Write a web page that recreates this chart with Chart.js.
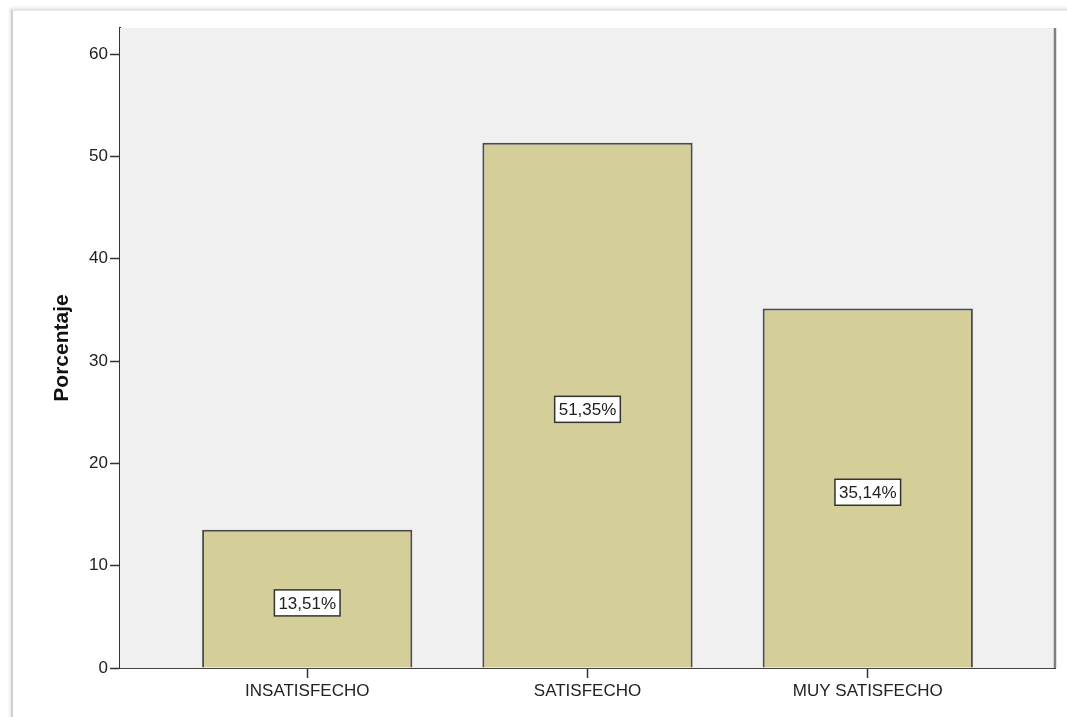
<!DOCTYPE html>
<html lang="es">
<head>
<meta charset="utf-8">
<title>Porcentaje por nivel de satisfacción</title>
<script src="https://cdn.jsdelivr.net/npm/chart.js@4/dist/chart.umd.min.js"></script>
<style>
    html, body { margin: 0; padding: 0; background: #fff; }
    body { width: 1067px; height: 717px; position: relative; overflow: hidden; }
    .frame {
        position: absolute; left: 11px; top: 9px; right: -4px; bottom: -4px;
        border-top: 2px solid #e6e6e6;
        border-left: 2px solid #d0d0d0;
        box-shadow: -1px -1px 3px rgba(0,0,0,0.12);
        background: #fff;
    }
    #chart { position: absolute; left: 0; top: 0; }
</style>
</head>
<body>
<div class="frame"></div>
<canvas id="chart" width="1067" height="717"></canvas>
<script>
const categories = ['INSATISFECHO', 'SATISFECHO', 'MUY SATISFECHO'];
const percentages = [13.51, 51.35, 35.14];
const yTicks = [0, 10, 20, 30, 40, 50, 60];

const FONT = '"Liberation Sans", Arial, sans-serif';

// ─── Plot background, right frame and value boxes ──────────────

const plotFrame = {
    id: 'plotFrame',
    beforeDatasetsDraw(chart) {
        const { ctx, chartArea: a } = chart;
        ctx.save();
        ctx.fillStyle = '#f0f0f0';
        ctx.fillRect(a.left, a.top, a.right - a.left, a.bottom - a.top);
        ctx.restore();
    },
    afterDraw(chart) {
        const { ctx, chartArea: a } = chart;
        ctx.save();
        ctx.strokeStyle = '#808080';
        ctx.lineWidth = 2.5;
        ctx.beginPath();
        ctx.moveTo(a.right, a.top);
        ctx.lineTo(a.right, a.bottom);
        ctx.stroke();
        ctx.restore();
    }
};

const valueBoxes = {
    id: 'valueBoxes',
    afterDatasetsDraw(chart) {
        const { ctx } = chart;
        const y = chart.scales.y;
        const meta = chart.getDatasetMeta(0);
        ctx.save();
        ctx.font = '17px ' + FONT;
        ctx.textAlign = 'center';
        ctx.textBaseline = 'middle';
        meta.data.forEach((bar, i) => {
            const text = percentages[i].toFixed(2).replace('.', ',') + '%';
            const cx = bar.x;
            const cy = y.getPixelForValue(percentages[i] / 2) + 4;
            const w = ctx.measureText(text).width + 8;
            const h = 26;
            ctx.fillStyle = '#ffffff';
            ctx.fillRect(cx - w / 2, cy - h / 2, w, h);
            ctx.strokeStyle = '#333';
            ctx.lineWidth = 1.5;
            ctx.strokeRect(cx - w / 2, cy - h / 2, w, h);
            ctx.fillStyle = '#222';
            ctx.fillText(text, cx, cy + 1);
        });
        ctx.restore();
    }
};

new Chart(document.getElementById('chart'), {
    type: 'bar',
    data: {
        datasets: [{
            data: percentages.map((v, i) => ({ x: i, y: v })),
            backgroundColor: '#d4cf99',
            borderColor: '#4a4a4a',
            borderWidth: 2,
            borderSkipped: 'bottom',
            categoryPercentage: 1,
            barPercentage: 0.75
        }]
    },
    options: {
        responsive: false,
        animation: false,
        layout: { padding: { left: 0, top: 28, right: 12, bottom: 0 } },
        plugins: {
            legend: { display: false },
            tooltip: { enabled: false }
        },
        scales: {
            x: {
                type: 'linear',
                offset: false,
                min: -0.668,
                max: 2.668,
                afterBuildTicks(scale) {
                    scale.ticks = categories.map((_, i) => ({ value: i }));
                },
                afterFit(scale) { scale.height = 49; },
                grid: {
                    offset: false,
                    drawOnChartArea: false,
                    drawTicks: true,
                    tickLength: 10,
                    tickWidth: 1.5,
                    tickColor: '#333'
                },
                border: { color: '#444', width: 2 },
                ticks: {
                    autoSkip: false,
                    maxRotation: 0,
                    padding: 3,
                    color: '#222',
                    font: { family: FONT, size: 17 },
                    callback: v => categories[v]
                }
            },
            y: {
                min: 0,
                max: 62.56,
                afterBuildTicks(scale) {
                    scale.ticks = yTicks.map(v => ({ value: v }));
                },
                afterFit(scale) { scale.width = 120; },
                grid: {
                    drawOnChartArea: false,
                    drawTicks: true,
                    tickLength: 10,
                    tickWidth: 1.5,
                    tickColor: '#333'
                },
                border: { color: '#333', width: 2 },
                ticks: {
                    padding: 2,
                    color: '#222',
                    font: { family: FONT, size: 17 }
                },
                title: {
                    display: true,
                    text: 'Porcentaje',
                    color: '#111',
                    font: { family: FONT, size: 21, weight: 'bold' },
                    padding: { top: 50, bottom: 0 }
                }
            }
        }
    },
    plugins: [plotFrame, valueBoxes]
});
</script>
</body>
</html>
